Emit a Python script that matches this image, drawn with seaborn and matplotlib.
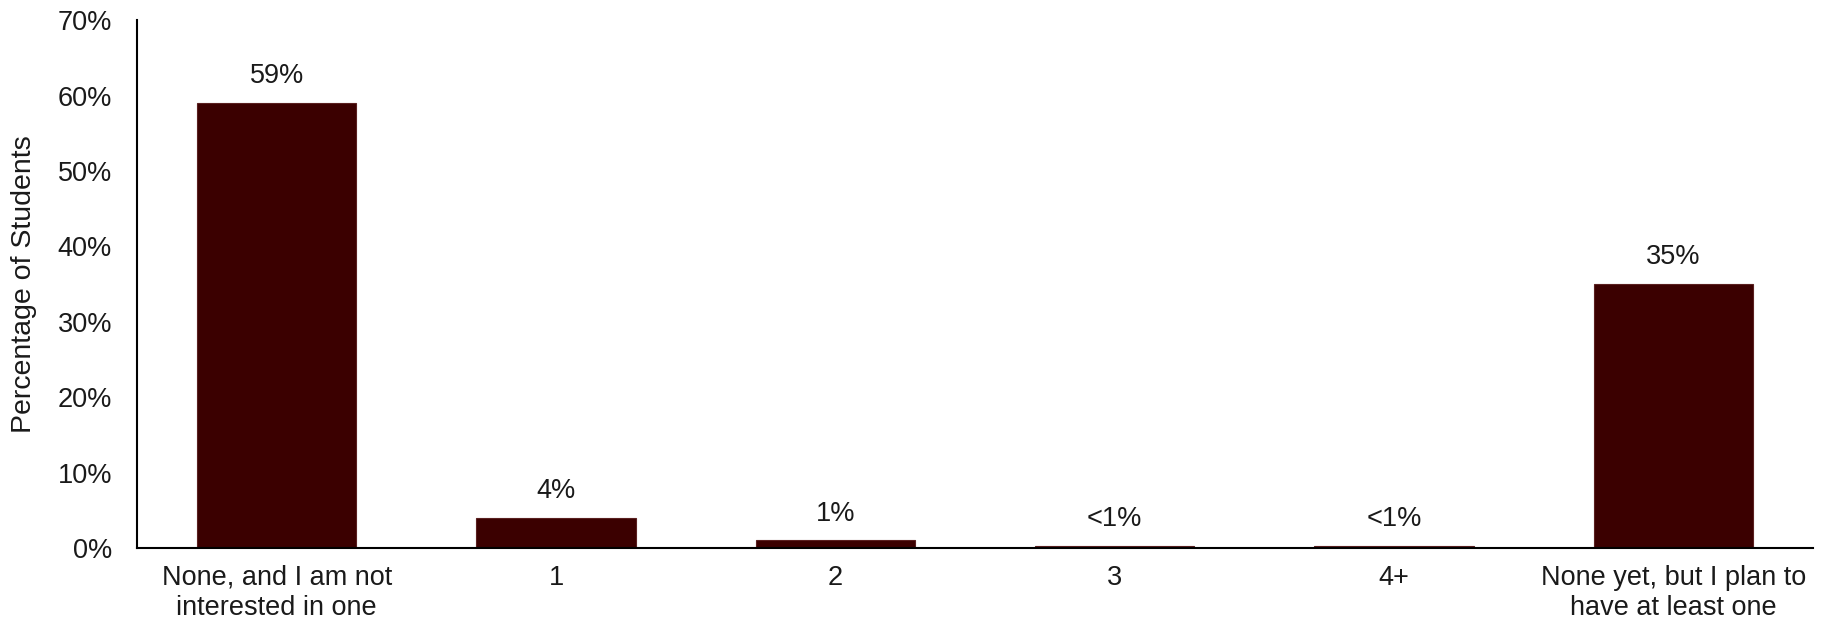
import matplotlib
matplotlib.use("Agg")
import matplotlib.pyplot as plt
import seaborn as sns
import pandas as pd
from matplotlib.ticker import FuncFormatter

categories = ["None, and I am not\ninterested in one", "1", "2", "3", "4+",
              "None yet, but I plan to\nhave at least one"]
values = [59, 4, 1, 0.3, 0.3, 35]
value_labels = ["59%", "4%", "1%", "<1%", "<1%", "35%"]
y_ticks = [0, 10, 20, 30, 40, 50, 60, 70]

sns.set_theme(style="white")
plt.rcParams["font.family"] = ["Liberation Sans", "DejaVu Sans"]

df = pd.DataFrame({"category": categories, "value": values})

fig = plt.figure(figsize=(18.25, 6.29), dpi=100)
ax = fig.add_axes([0.0751, 0.1288, 0.9183, 0.8392])

sns.barplot(data=df, x="category", y="value", color="#3b0000", width=0.57,
            edgecolor="#5a2020", linewidth=0.8, ax=ax, saturation=1)

FS = 19.5
for i, (v, lab) in enumerate(zip(values, value_labels)):
    ax.annotate(lab, (i, v), xytext=(0, 10), textcoords="offset points",
                ha="center", va="bottom", fontsize=FS, color="#1a1a1a")

ax.set_ylim(0, 70)
ax.set_xlim(-0.5, len(categories) - 0.5)
ax.set_yticks(y_ticks)
ax.yaxis.set_major_formatter(FuncFormatter(lambda v, p: f"{int(v)}%"))
ax.tick_params(axis="both", labelsize=FS, colors="#1a1a1a", length=0)
ax.tick_params(axis="x", pad=12)
ax.tick_params(axis="y", pad=18)
ax.set_xlabel("")
ax.set_ylabel("Percentage of Students", fontsize=20.5, color="#1a1a1a")
ax.yaxis.set_label_coords(-0.060, 0.5)

for s in ["top", "right"]:
    ax.spines[s].set_visible(False)
for s in ["left", "bottom"]:
    ax.spines[s].set_color("#000000")
    ax.spines[s].set_linewidth(1.5)

fig.savefig("out.png", dpi=100)
